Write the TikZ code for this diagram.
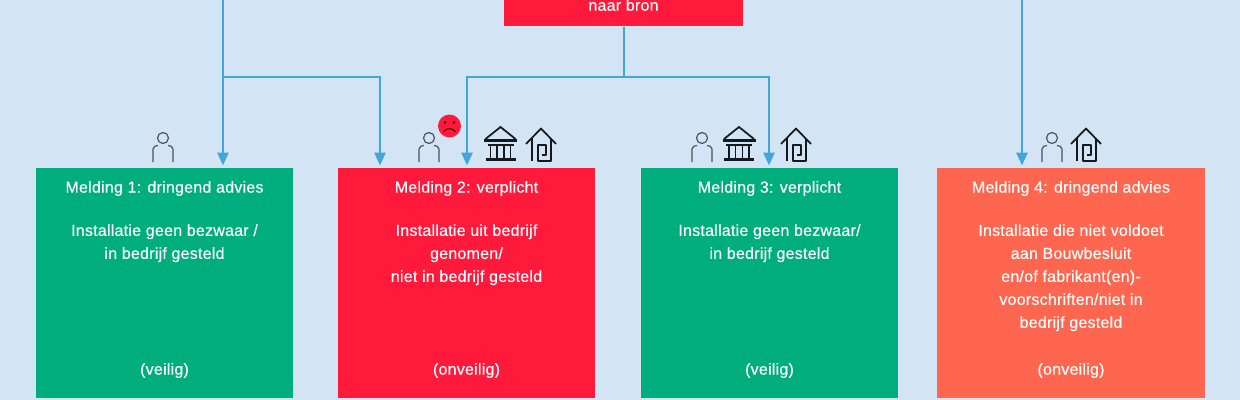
\documentclass[tikz,border=0pt]{standalone}
\usepackage{fontspec}
\setmainfont{Liberation Sans}[FakeBold=0.25,LetterSpace=1.5]
\usetikzlibrary{arrows.meta,calc}
\definecolor{bgblue}{HTML}{D3E5F5}
\definecolor{linkblue}{HTML}{43A6DB}
\definecolor{okgreen}{HTML}{00AD7C}
\definecolor{alarmred}{HTML}{FF1A3C}
\definecolor{warnorange}{HTML}{FF6650}
\definecolor{iconink}{HTML}{15181C}
\tikzset{
  x=0.75pt,y=-0.75pt,
  boxtext/.style={text=white,font=\fontsize{12}{17.25}\selectfont,align=center,inner sep=0pt},
  card/.style={inner sep=0pt,minimum height=172.5pt,anchor=north},
  link/.style={draw=linkblue,line width=1.1pt},
  arrowlink/.style={link,-{Triangle[length=9.5pt,width=8.5pt]},shorten >=2pt},
  personicon/.pic={
    \draw[draw=iconink!75,line width=0.9pt] (0,-2) circle (5.5);
    \draw[draw=iconink!75,line width=0.9pt] (-10,22) -- (-10,9) .. controls (-10,6) and (-7,6) .. (-5,5.5);
    \draw[draw=iconink!75,line width=0.9pt] (10,22) -- (10,9) .. controls (10,6) and (7,6) .. (5,5.5);
  },
  bankicon/.pic={
    \draw[draw=iconink,line width=1.3pt,line join=miter] (-15,12) -- (0,0) -- (15,12);
    \draw[draw=iconink,line width=1.7pt] (-16.5,13.5) -- (16.5,13.5);
    \draw[draw=iconink,line width=1.3pt] (-13,18) -- (13,18);
    \foreach \cx in {-10,-3.5,3.5,10} \draw[draw=iconink,line width=1.3pt] (\cx,18) -- (\cx,31);
    \draw[draw=iconink,line width=1.9pt] (-15,32.5) -- (15,32.5);
  },
  houseicon/.pic={
    \draw[draw=iconink,line width=1.3pt,line join=round] (-15,16) -- (0,0.5) -- (15,16);
    \draw[draw=iconink,line width=1.3pt,line join=round] (-9,10) -- (-9,33);
    \draw[draw=iconink,line width=1.3pt,line join=round] (10,10) -- (10,33) -- (-3,33) -- (-3,17) -- (5,17) -- (5,27) -- (1,27);
  },
}
\begin{document}
\begin{tikzpicture}
\useasboundingbox (0,0) rectangle (1240,400);
\clip (0,0) rectangle (1240,400);
\fill[bgblue] (0,0) rectangle (1240,400);

\node[fill=alarmred,inner sep=0pt,minimum width=179.25pt,minimum height=45pt,anchor=south] (bron) at (623.5,26.5) {};
\node[boxtext] (bronlabel) at (623.5,5) {naar bron};

\node[card,fill=okgreen,minimum width=192.75pt] (m1) at (164.5,168) {};
\node[card,fill=alarmred,minimum width=192.75pt] (m2) at (466.5,168) {};
\node[card,fill=okgreen,minimum width=192.75pt] (m3) at (769.5,168) {};
\node[card,fill=warnorange,minimum width=201pt] (m4) at (1071,168) {};

\node[boxtext] (m1t) at (164.5,188.5) {Melding 1: dringend advies};
\node[boxtext,anchor=north] (m1b) at (164.5,224) {Installatie geen bezwaar /\\in bedrijf gesteld};
\node[boxtext] (m1s) at (164.5,370.5) {(veilig)};
\node[boxtext] (m2t) at (466.5,188.5) {Melding 2: verplicht};
\node[boxtext,anchor=north] (m2b) at (466.5,224) {Installatie uit bedrijf\\genomen/\\niet in bedrijf gesteld};
\node[boxtext] (m2s) at (466.5,370.5) {(onveilig)};
\node[boxtext] (m3t) at (769.5,188.5) {Melding 3: verplicht};
\node[boxtext,anchor=north] (m3b) at (769.5,224) {Installatie geen bezwaar/\\in bedrijf gesteld};
\node[boxtext] (m3s) at (769.5,370.5) {(veilig)};
\node[boxtext] (m4t) at (1071,188.5) {Melding 4: dringend advies};
\node[boxtext,anchor=north] (m4b) at (1071,224) {Installatie die niet voldoet\\aan Bouwbesluit\\en/of fabrikant(en)-\\voorschriften/niet in\\bedrijf gesteld};
\node[boxtext] (m4s) at (1071,370.5) {(onveilig)};

\coordinate (topA) at (223,0);
\coordinate (topD) at (1022,0);
\coordinate (jA) at (223,77);
\coordinate (jB) at (624,77);
\coordinate (e2a) at (380,77);
\coordinate (e2b) at (467,77);
\coordinate (e3) at (769,77);

\draw[arrowlink] (topA) -- (topA |- m1.north);
\draw[arrowlink] (jA) -- (e2a) -- (e2a |- m2.north);
\draw[link] (bron.south -| jB) -- (jB);
\draw[arrowlink] (jB) -- (e2b) -- (e2b |- m2.north);
\draw[arrowlink] (jB) -- (e3) -- (e3 |- m3.north);
\draw[arrowlink] (topD) -- (topD |- m4.north);

\pic at (163,140) {personicon};
\pic at (429,140) {personicon};
\pic at (702,140) {personicon};
\pic at (1052,140) {personicon};
\pic at (500.5,127) {bankicon};
\pic at (739,127) {bankicon};
\pic at (541,128) {houseicon};
\pic at (796,128) {houseicon};
\pic at (1086,128) {houseicon};

\fill[alarmred] (449.5,126) circle (11.5);
\fill[black!70!alarmred] (445,122.5) circle (1.3) (454,122.5) circle (1.3);
\draw[black!70!alarmred,line width=0.9pt] (443.5,132) .. controls (446,127.5) and (453,127.5) .. (455.5,132);
\end{tikzpicture}
\end{document}
